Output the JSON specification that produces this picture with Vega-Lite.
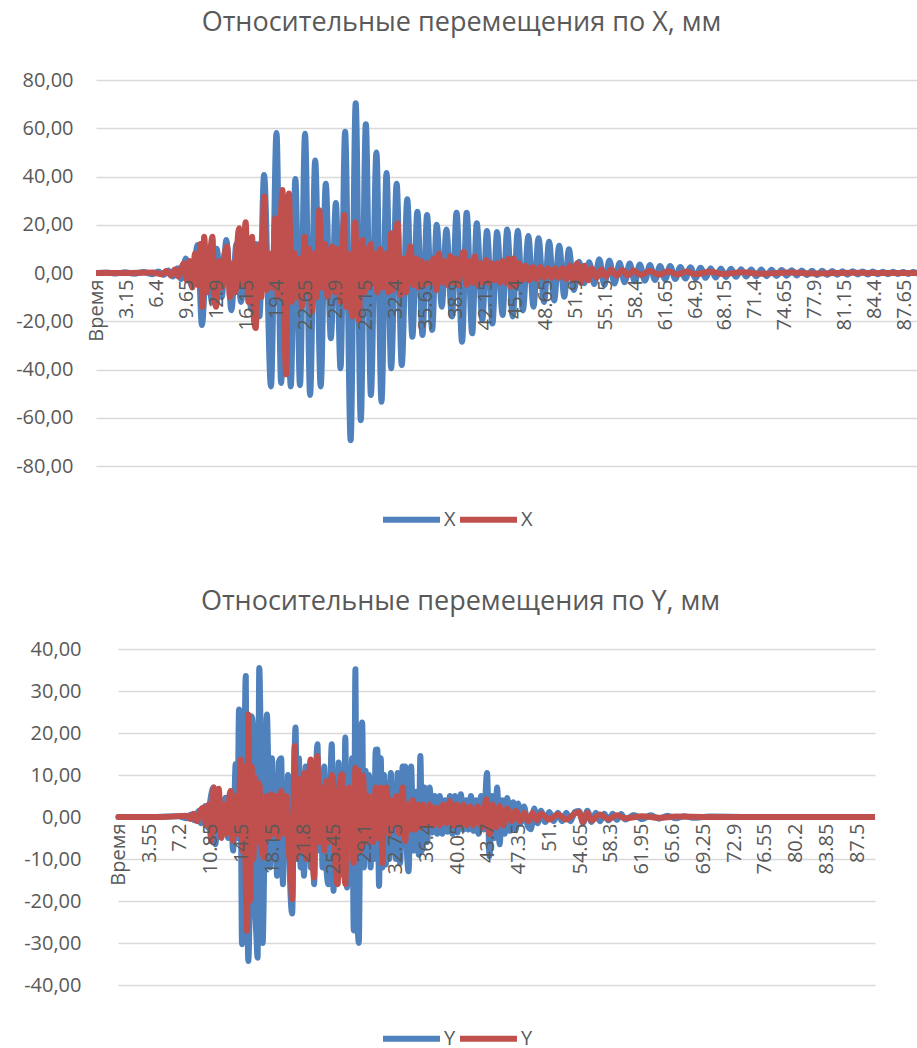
{
"$schema":"https://vega.github.io/schema/vega-lite/v6.json",
"padding":{"left":5,"top":9,"right":0,"bottom":0},
"background":"white",
"columns":1,
"spacing":56,
"resolve":{"scale":{"color":"independent"},"legend":{"color":"independent"}},
"config":{"font":"Open Sans","view":{"stroke":null},
"axis":{"labelColor":"#595959","labelFontSize":20,"labelFont":"Open Sans","ticks":false,"tickSize":0,"domain":false,"labelOverlap":false},
"axisY":{"grid":true,"gridColor":"#d9d9d9","gridWidth":1.5},
"axisX":{"grid":false,"labelAngle":-90,"labelPadding":6,"labelOverlap":false},
"legend":{"labelColor":"#595959","labelFontSize":20,"labelFont":"Open Sans","symbolType":"stroke","symbolSize":3249,"symbolStrokeWidth":6,"columnPadding":-8,"labelOffset":1,"direction":"horizontal","orient":"none"}},
"datasets":{
"topB":[{"t":-0.1,"v":0},{"t":1,"v":0.2},{"t":2,"v":-0.2},{"t":3,"v":0.3},{"t":4,"v":-0.3},{"t":5,"v":0.4},{"t":6,"v":-0.5},{"t":6.6,"v":0.6},{"t":7.2,"v":-0.8},{"t":7.7,"v":1},{"t":8.2,"v":-1.5},{"t":8.7,"v":2},{"t":9.1,"v":-2.5},{"t":9.6,"v":6},{"t":10.2,"v":-5},{"t":10.9,"v":11.6},{"t":11.35,"v":-21.6},{"t":11.9,"v":8},{"t":12.45,"v":-12},{"t":12.95,"v":10},{"t":13.5,"v":-10},{"t":14,"v":13.7},{"t":14.55,"v":-15.4},{"t":15.1,"v":12},{"t":15.6,"v":-12},{"t":16.15,"v":14},{"t":16.7,"v":-15},{"t":17.2,"v":12},{"t":17.6,"v":-18},{"t":18.1,"v":40.6},{"t":18.85,"v":-47},{"t":19.45,"v":58},{"t":19.95,"v":-45.6},{"t":20.45,"v":30},{"t":21,"v":-47},{"t":21.5,"v":39},{"t":22,"v":-46.5},{"t":22.55,"v":57.7},{"t":23.1,"v":-50.6},{"t":23.65,"v":46.6},{"t":24.25,"v":-47},{"t":24.8,"v":37},{"t":25.35,"v":-27},{"t":25.9,"v":29},{"t":26.4,"v":-39.5},{"t":26.9,"v":58.6},{"t":27.5,"v":-69.3},{"t":28.05,"v":70.4},{"t":28.6,"v":-61},{"t":29.15,"v":61.7},{"t":29.7,"v":-50.6},{"t":30.3,"v":50},{"t":30.85,"v":-53.4},{"t":31.4,"v":41.4},{"t":31.9,"v":-39.5},{"t":32.5,"v":37},{"t":33.05,"v":-38.2},{"t":33.65,"v":30.6},{"t":34.2,"v":-26.4},{"t":34.75,"v":25.4},{"t":35.3,"v":-25.7},{"t":35.8,"v":24},{"t":36.35,"v":-23.6},{"t":36.85,"v":20},{"t":37.4,"v":-14},{"t":37.9,"v":18},{"t":38.5,"v":-18},{"t":39,"v":25},{"t":39.6,"v":-28.5},{"t":40.1,"v":25},{"t":40.7,"v":-25},{"t":41.2,"v":20.6},{"t":41.8,"v":-19.5},{"t":42.3,"v":17.4},{"t":42.9,"v":-20.9},{"t":43.4,"v":17},{"t":44,"v":-17.4},{"t":44.5,"v":18},{"t":45.1,"v":-18},{"t":45.65,"v":17.5},{"t":46.2,"v":-15.5},{"t":46.8,"v":15.3},{"t":47.35,"v":-14},{"t":47.9,"v":14.4},{"t":48.5,"v":-12},{"t":49.05,"v":13},{"t":49.6,"v":-11.4},{"t":50.15,"v":11.3},{"t":50.7,"v":-9.8},{"t":51.2,"v":9.8},{"t":51.75,"v":-7},{"t":52.3,"v":4.7},{"t":52.85,"v":-4.3},{"t":53.4,"v":4.5},{"t":53.95,"v":-4.6},{"t":54.5,"v":5.7},{"t":55.05,"v":-5},{"t":55.6,"v":5.2},{"t":56.15,"v":-4.4},{"t":56.7,"v":4.1},{"t":57.25,"v":-3.8},{"t":57.8,"v":3.9},{"t":58.35,"v":-3.5},{"t":58.9,"v":3.5},{"t":59.45,"v":-3.2},{"t":60,"v":3.3},{"t":60.55,"v":-2.9},{"t":61.1,"v":2.9},{"t":61.65,"v":-2.7},{"t":62.2,"v":2.9},{"t":62.75,"v":-2.5},{"t":63.3,"v":2.5},{"t":63.85,"v":-2.3},{"t":64.4,"v":2.4},{"t":64.95,"v":-2.2},{"t":65.5,"v":2.2},{"t":66.05,"v":-2},{"t":66.6,"v":2},{"t":67.15,"v":-1.9},{"t":67.7,"v":1.9},{"t":68.25,"v":-1.7},{"t":68.8,"v":1.8},{"t":69.35,"v":-1.6},{"t":69.9,"v":1.6},{"t":70.45,"v":-1.5},{"t":71,"v":1.5},{"t":71.55,"v":-1.4},{"t":72.1,"v":1.4},{"t":72.65,"v":-1.3},{"t":73.2,"v":1.3},{"t":73.75,"v":-1.2},{"t":74.3,"v":1.2},{"t":74.85,"v":-1.1},{"t":75.4,"v":1.1},{"t":75.95,"v":-1},{"t":76.5,"v":1},{"t":77.05,"v":-0.9},{"t":77.6,"v":0.9},{"t":78.15,"v":-0.9},{"t":78.7,"v":0.9},{"t":79.25,"v":-0.8},{"t":79.8,"v":0.8},{"t":80.35,"v":-0.7},{"t":80.9,"v":0.7},{"t":81.45,"v":-0.7},{"t":82,"v":0.7},{"t":82.55,"v":-0.6},{"t":83.1,"v":0.6},{"t":83.65,"v":-0.6},{"t":84.2,"v":0.6},{"t":84.75,"v":-0.5},{"t":85.3,"v":0.5},{"t":85.85,"v":-0.5},{"t":86.4,"v":0.5},{"t":86.95,"v":-0.4},{"t":87.5,"v":0.4},{"t":88.05,"v":-0.4},{"t":88.6,"v":0.4},{"t":89.15,"v":-0.3},{"t":89.6,"v":0}],
"topR":[{"t":-0.1,"v":0},{"t":3,"v":0},{"t":6,"v":0.2},{"t":7,"v":-0.5},{"t":7.5,"v":0.8},{"t":8,"v":-1},{"t":8.4,"v":1.5},{"t":8.8,"v":-1.5},{"t":9.1,"v":2},{"t":9.4,"v":4},{"t":9.7,"v":-3},{"t":10,"v":5},{"t":10.3,"v":-6},{"t":10.6,"v":8},{"t":10.9,"v":-5},{"t":11.2,"v":12},{"t":11.4,"v":-14},{"t":11.6,"v":15},{"t":11.9,"v":-8},{"t":12.2,"v":6},{"t":12.5,"v":15},{"t":12.7,"v":-10},{"t":12.9,"v":-14},{"t":13.2,"v":5},{"t":13.5,"v":-6},{"t":13.8,"v":8},{"t":14.1,"v":11},{"t":14.4,"v":-10},{"t":14.7,"v":4},{"t":15,"v":-8},{"t":15.2,"v":12},{"t":15.4,"v":18.5},{"t":15.6,"v":-5},{"t":15.9,"v":10},{"t":16.1,"v":21},{"t":16.4,"v":-12},{"t":16.6,"v":8},{"t":16.8,"v":15},{"t":17,"v":-19.5},{"t":17.2,"v":-22.8},{"t":17.4,"v":5},{"t":17.6,"v":12},{"t":17.8,"v":-10},{"t":18.1,"v":31.7},{"t":18.4,"v":-7},{"t":18.7,"v":8},{"t":19,"v":-6},{"t":19.3,"v":22.7},{"t":19.6,"v":-10},{"t":19.85,"v":15},{"t":20.1,"v":34.4},{"t":20.3,"v":-20},{"t":20.5,"v":-42},{"t":20.65,"v":10},{"t":20.8,"v":33},{"t":21.1,"v":-12},{"t":21.4,"v":8.3},{"t":21.7,"v":-10},{"t":22,"v":6},{"t":22.2,"v":-14},{"t":22.5,"v":15},{"t":22.8,"v":-8},{"t":23,"v":10},{"t":23.3,"v":-16},{"t":23.6,"v":8},{"t":23.8,"v":-10},{"t":24.1,"v":26},{"t":24.4,"v":-6},{"t":24.7,"v":12},{"t":25,"v":-10},{"t":25.3,"v":8},{"t":25.5,"v":11},{"t":25.8,"v":-8},{"t":26.1,"v":10},{"t":26.4,"v":-12},{"t":26.6,"v":5},{"t":26.8,"v":24},{"t":27,"v":-14},{"t":27.3,"v":8},{"t":27.5,"v":-12},{"t":27.7,"v":-18},{"t":28,"v":21},{"t":28.2,"v":-10},{"t":28.4,"v":-19.5},{"t":28.6,"v":8},{"t":28.8,"v":13.7},{"t":29,"v":-8},{"t":29.3,"v":10},{"t":29.5,"v":-6},{"t":29.7,"v":12},{"t":29.9,"v":-4.3},{"t":30.2,"v":8},{"t":30.4,"v":-8},{"t":30.7,"v":10},{"t":31,"v":-6},{"t":31.3,"v":8},{"t":31.6,"v":-8},{"t":31.9,"v":16.5},{"t":32.1,"v":-7},{"t":32.3,"v":12},{"t":32.6,"v":20.6},{"t":32.9,"v":-9},{"t":33.2,"v":6},{"t":33.5,"v":-8},{"t":33.8,"v":6},{"t":34,"v":11},{"t":34.3,"v":-5},{"t":34.6,"v":6},{"t":34.9,"v":-6},{"t":35.2,"v":5},{"t":35.5,"v":-5},{"t":35.8,"v":4},{"t":36.1,"v":-4},{"t":36.5,"v":6},{"t":36.8,"v":-7},{"t":37.1,"v":8},{"t":37.4,"v":-4},{"t":37.7,"v":5},{"t":38,"v":-5},{"t":38.3,"v":7},{"t":38.6,"v":-4},{"t":38.9,"v":6},{"t":39.2,"v":-5},{"t":39.5,"v":5},{"t":39.8,"v":8.8},{"t":40.1,"v":-5},{"t":40.4,"v":5},{"t":40.7,"v":-4},{"t":41,"v":7},{"t":41.3,"v":-5},{"t":41.6,"v":4},{"t":41.9,"v":-4},{"t":42.2,"v":5.5},{"t":42.5,"v":-4},{"t":42.8,"v":4},{"t":43.1,"v":-3},{"t":43.4,"v":4},{"t":43.7,"v":-4},{"t":44,"v":5},{"t":44.3,"v":-4},{"t":44.6,"v":6},{"t":44.9,"v":-5.7},{"t":45.2,"v":6},{"t":45.5,"v":-5},{"t":45.8,"v":4},{"t":46.1,"v":-3},{"t":46.5,"v":3},{"t":46.9,"v":-3},{"t":47.3,"v":2.5},{"t":47.7,"v":-2.5},{"t":48.1,"v":2.5},{"t":48.5,"v":-2},{"t":48.9,"v":2},{"t":49.3,"v":-2},{"t":49.7,"v":2},{"t":50.1,"v":-2},{"t":50.5,"v":2},{"t":50.9,"v":-2.5},{"t":51.3,"v":3},{"t":51.7,"v":-3},{"t":52.1,"v":4},{"t":52.5,"v":-4},{"t":52.9,"v":3},{"t":53.3,"v":-3},{"t":53.7,"v":2},{"t":54.2,"v":-2},{"t":54.7,"v":1.5},{"t":55.2,"v":-1.5},{"t":55.8,"v":1.5},{"t":56.4,"v":-1.2},{"t":57,"v":1.2},{"t":57.6,"v":-1},{"t":58.2,"v":1},{"t":59,"v":-0.8},{"t":60,"v":0.8},{"t":61,"v":-0.7},{"t":62,"v":0.7},{"t":63,"v":-0.6},{"t":64,"v":0.6},{"t":65,"v":-0.5},{"t":66.5,"v":0.5},{"t":68,"v":-0.4},{"t":70,"v":0.3},{"t":72,"v":-0.3},{"t":75,"v":0.2},{"t":78,"v":-0.2},{"t":82,"v":0.1},{"t":86,"v":0},{"t":89.6,"v":0}],
"botB":[{"t":-0.1,"v":0},{"t":4,"v":0},{"t":7,"v":0.2},{"t":8,"v":-0.3},{"t":8.5,"v":0.6},{"t":8.9,"v":-0.8},{"t":9.4,"v":1.4},{"t":9.7,"v":-1.5},{"t":10.2,"v":2.6},{"t":10.5,"v":-2.5},{"t":10.8,"v":4},{"t":11.2,"v":7},{"t":11.4,"v":-6.5},{"t":11.7,"v":3},{"t":12,"v":-4},{"t":12.3,"v":2},{"t":12.6,"v":4.6},{"t":12.9,"v":-5},{"t":13.2,"v":3},{"t":13.5,"v":-8},{"t":13.8,"v":12.6},{"t":14,"v":-5},{"t":14.2,"v":25.6},{"t":14.4,"v":10},{"t":14.55,"v":-30.3},{"t":14.7,"v":-20},{"t":14.85,"v":15},{"t":15,"v":33.6},{"t":15.15,"v":-10},{"t":15.3,"v":-34.3},{"t":15.5,"v":-15},{"t":15.7,"v":24},{"t":15.9,"v":20},{"t":16.1,"v":-20},{"t":16.25,"v":-28},{"t":16.4,"v":-33.5},{"t":16.6,"v":35.5},{"t":16.8,"v":12},{"t":17,"v":-30},{"t":17.2,"v":-10},{"t":17.5,"v":24.4},{"t":17.7,"v":8},{"t":17.9,"v":-12},{"t":18.1,"v":14},{"t":18.3,"v":-8},{"t":18.5,"v":10},{"t":18.7,"v":-14},{"t":18.9,"v":13},{"t":19.2,"v":14},{"t":19.4,"v":-16},{"t":19.6,"v":8},{"t":19.8,"v":-8},{"t":20,"v":10},{"t":20.2,"v":-12},{"t":20.5,"v":-23},{"t":20.7,"v":5},{"t":20.9,"v":21.3},{"t":21.1,"v":-10},{"t":21.3,"v":14},{"t":21.5,"v":-12},{"t":21.7,"v":10},{"t":21.9,"v":-14},{"t":22.1,"v":12},{"t":22.3,"v":-10},{"t":22.5,"v":8},{"t":22.7,"v":-12},{"t":22.9,"v":10},{"t":23.1,"v":-16},{"t":23.3,"v":8},{"t":23.5,"v":17.3},{"t":23.7,"v":-8},{"t":23.9,"v":10},{"t":24.1,"v":-12},{"t":24.3,"v":12},{"t":24.5,"v":-10},{"t":24.8,"v":-16},{"t":25,"v":5},{"t":25.2,"v":17.3},{"t":25.4,"v":-17.6},{"t":25.6,"v":8},{"t":25.8,"v":-12},{"t":26,"v":13},{"t":26.2,"v":-10},{"t":26.4,"v":10},{"t":26.6,"v":-14},{"t":26.8,"v":18.9},{"t":27,"v":-16.8},{"t":27.2,"v":8},{"t":27.4,"v":-10},{"t":27.6,"v":14},{"t":27.8,"v":-27},{"t":28,"v":35.2},{"t":28.2,"v":-20},{"t":28.4,"v":-30},{"t":28.6,"v":10},{"t":28.8,"v":22.5},{"t":29,"v":-12},{"t":29.2,"v":11},{"t":29.4,"v":-9},{"t":29.6,"v":10},{"t":29.8,"v":-12},{"t":30,"v":8},{"t":30.2,"v":-10},{"t":30.4,"v":16},{"t":30.6,"v":16.1},{"t":30.8,"v":-16.4},{"t":31,"v":14},{"t":31.2,"v":-12},{"t":31.4,"v":10},{"t":31.6,"v":-11.3},{"t":31.8,"v":8},{"t":32,"v":-10},{"t":32.2,"v":10.5},{"t":32.4,"v":-8},{"t":32.6,"v":6},{"t":32.8,"v":-10},{"t":33,"v":10.5},{"t":33.3,"v":-11},{"t":33.6,"v":12},{"t":33.9,"v":12},{"t":34.1,"v":-8},{"t":34.3,"v":-12.9},{"t":34.6,"v":12},{"t":34.9,"v":-8},{"t":35.2,"v":6},{"t":35.5,"v":-9},{"t":35.7,"v":14.5},{"t":35.9,"v":-8},{"t":36.2,"v":7},{"t":36.5,"v":-6},{"t":36.8,"v":7},{"t":37.1,"v":-3.7},{"t":37.4,"v":5},{"t":37.7,"v":-4},{"t":38,"v":5},{"t":38.3,"v":-4},{"t":38.6,"v":4},{"t":38.9,"v":-3.5},{"t":39.2,"v":5},{"t":39.5,"v":-4},{"t":39.8,"v":5},{"t":40.1,"v":-3.7},{"t":40.5,"v":5.4},{"t":40.8,"v":-3},{"t":41.1,"v":4},{"t":41.4,"v":-3},{"t":41.7,"v":5},{"t":42,"v":-3.3},{"t":42.3,"v":4},{"t":42.6,"v":-4},{"t":42.9,"v":5},{"t":43.2,"v":-3},{"t":43.6,"v":10.5},{"t":43.9,"v":-9.3},{"t":44.2,"v":5},{"t":44.5,"v":-5},{"t":44.8,"v":7},{"t":45.1,"v":-6.5},{"t":45.4,"v":4},{"t":45.7,"v":-4},{"t":46,"v":4.5},{"t":46.3,"v":-3.3},{"t":46.7,"v":3.5},{"t":47,"v":-3},{"t":47.3,"v":3.2},{"t":47.6,"v":-1.4},{"t":48,"v":2.5},{"t":48.4,"v":-2},{"t":48.8,"v":-2.9},{"t":49.2,"v":2},{"t":49.6,"v":-1.5},{"t":50,"v":1.5},{"t":50.5,"v":-1.2},{"t":51,"v":1.2},{"t":51.5,"v":-1},{"t":52,"v":1},{"t":52.5,"v":-1},{"t":53,"v":1},{"t":53.5,"v":-1},{"t":54,"v":1.2},{"t":54.5,"v":1.4},{"t":55,"v":-1.4},{"t":55.5,"v":1.5},{"t":56,"v":-1.2},{"t":56.5,"v":1},{"t":57,"v":-1},{"t":57.5,"v":0.8},{"t":58,"v":-0.8},{"t":58.5,"v":0.8},{"t":59,"v":-0.7},{"t":59.5,"v":0.7},{"t":60,"v":-0.6},{"t":61,"v":0.5},{"t":62,"v":-0.5},{"t":63,"v":0.4},{"t":64,"v":-0.4},{"t":65,"v":0.3},{"t":66,"v":-0.3},{"t":67,"v":0.2},{"t":68,"v":-0.2},{"t":70,"v":0.1},{"t":75,"v":0},{"t":89.6,"v":0}],
"botR":[{"t":-0.1,"v":0},{"t":5,"v":0},{"t":8,"v":0.3},{"t":8.4,"v":-0.5},{"t":8.8,"v":0.8},{"t":9.2,"v":-1},{"t":9.6,"v":1.5},{"t":10,"v":2.2},{"t":10.3,"v":-2},{"t":10.6,"v":3},{"t":10.9,"v":-5.7},{"t":11.2,"v":7},{"t":11.5,"v":-3},{"t":11.8,"v":6.7},{"t":12.1,"v":-5},{"t":12.4,"v":3},{"t":12.7,"v":-4},{"t":13,"v":4},{"t":13.2,"v":6.2},{"t":13.5,"v":-5.7},{"t":13.8,"v":5},{"t":14.1,"v":-4},{"t":14.4,"v":13.7},{"t":14.6,"v":-8},{"t":14.8,"v":12},{"t":15,"v":-15},{"t":15.15,"v":-27.1},{"t":15.3,"v":24.4},{"t":15.5,"v":-20},{"t":15.7,"v":12},{"t":15.9,"v":-10},{"t":16.1,"v":9.4},{"t":16.3,"v":-6},{"t":16.6,"v":8},{"t":16.9,"v":-8},{"t":17.2,"v":-9.7},{"t":17.5,"v":5},{"t":17.8,"v":-5},{"t":18,"v":5.4},{"t":18.3,"v":-4},{"t":18.6,"v":5},{"t":18.9,"v":-5},{"t":19.2,"v":6.2},{"t":19.5,"v":-4},{"t":19.8,"v":5},{"t":20.1,"v":-8},{"t":20.3,"v":-12},{"t":20.5,"v":-19.6},{"t":20.8,"v":16.9},{"t":21,"v":-9.7},{"t":21.3,"v":9},{"t":21.6,"v":-8},{"t":21.9,"v":10.5},{"t":22.2,"v":-10},{"t":22.5,"v":9},{"t":22.7,"v":13.7},{"t":22.9,"v":-8},{"t":23.1,"v":-14.4},{"t":23.3,"v":8},{"t":23.5,"v":14.5},{"t":23.7,"v":-6},{"t":24,"v":7},{"t":24.3,"v":-8},{"t":24.6,"v":8.6},{"t":24.9,"v":-6},{"t":25.2,"v":10},{"t":25.4,"v":7.8},{"t":25.6,"v":-10},{"t":25.9,"v":-16},{"t":26.1,"v":5},{"t":26.4,"v":10.2},{"t":26.6,"v":-8},{"t":26.8,"v":-16},{"t":27,"v":5},{"t":27.3,"v":7},{"t":27.6,"v":-6},{"t":27.8,"v":-10.9},{"t":28,"v":11.7},{"t":28.2,"v":-5},{"t":28.4,"v":11},{"t":28.6,"v":-8},{"t":28.9,"v":9.8},{"t":29.2,"v":-6},{"t":29.5,"v":5},{"t":29.8,"v":-4},{"t":30.1,"v":-6},{"t":30.4,"v":7},{"t":30.7,"v":-5},{"t":31,"v":7},{"t":31.2,"v":-10.9},{"t":31.4,"v":5},{"t":31.7,"v":7},{"t":32,"v":-4},{"t":32.3,"v":4},{"t":32.6,"v":-1.6},{"t":32.9,"v":5},{"t":33.2,"v":-4},{"t":33.6,"v":7},{"t":33.9,"v":-5.7},{"t":34.2,"v":3},{"t":34.5,"v":-3},{"t":34.8,"v":4},{"t":35.1,"v":-3},{"t":35.4,"v":3},{"t":35.7,"v":-2.5},{"t":36,"v":3},{"t":36.4,"v":-2},{"t":36.8,"v":3},{"t":37.2,"v":-2},{"t":37.6,"v":2.2},{"t":38,"v":-2},{"t":38.4,"v":3},{"t":38.8,"v":-1.5},{"t":39.2,"v":3.8},{"t":39.6,"v":-2},{"t":40,"v":3},{"t":40.4,"v":-2},{"t":40.8,"v":3},{"t":41.2,"v":-2},{"t":41.6,"v":2.5},{"t":42,"v":-2},{"t":42.5,"v":2.5},{"t":43,"v":-2.5},{"t":43.5,"v":4.2},{"t":43.9,"v":-4.1},{"t":44.3,"v":3},{"t":44.7,"v":-2.5},{"t":45.1,"v":2.6},{"t":45.5,"v":-2},{"t":46,"v":2},{"t":46.5,"v":-1},{"t":47,"v":1.5},{"t":47.5,"v":-1},{"t":48,"v":1},{"t":48.5,"v":-1},{"t":49,"v":1},{"t":49.5,"v":-0.8},{"t":50,"v":0.8},{"t":51,"v":-0.6},{"t":52,"v":0.6},{"t":53,"v":-0.6},{"t":54,"v":0.8},{"t":54.5,"v":1.2},{"t":55,"v":-1.2},{"t":55.5,"v":1},{"t":56,"v":-0.8},{"t":57,"v":0.6},{"t":58,"v":-0.5},{"t":59,"v":0.4},{"t":60,"v":-0.3},{"t":62,"v":0.2},{"t":64,"v":-0.2},{"t":66,"v":0.1},{"t":70,"v":0},{"t":89.6,"v":0}]
},
"concat":[
{"width":821,"height":386,
"title":{"text":"Относительные перемещения по X, мм","fontSize":27,"fontWeight":"normal","color":"#595959","font":"Open Sans","dx":-45,"offset":33},
"layer":[
{"data":{"name":"topB"},"mark":{"type":"line","strokeWidth":6,"strokeCap":"round","strokeJoin":"round","interpolate":"monotone","clip":true},
"encoding":{
"x":{"field":"t","type":"quantitative","title":null,"scale":{"domain":[-0.15,89.0],"nice":false,"zero":false},"axis":{"values":[-0.1,3.15,6.4,9.65,12.9,16.15,19.4,22.65,25.9,29.15,32.4,35.65,38.9,42.15,45.4,48.65,51.9,55.15,58.4,61.65,64.9,68.15,71.4,74.65,77.9,81.15,84.4,87.65],"labelExpr":"datum.value < 0 ? 'Время' : toString(datum.value)","offset":-193,"labelFontSize":20,"labelOverlap":false,"labelFlush":false,"labelBound":false,"zindex":1,"labelAngle":-90,"labelPadding":6}},
"y":{"field":"v","type":"quantitative","title":null,"scale":{"domain":[-80,80],"nice":false},"axis":{"values":[-80,-60,-40,-20,0,20,40,60,80],"labelExpr":"replace(replace(format(datum.value,'.2f'),'.',','),'−','-')","labelPadding":23,"minExtent":91,"maxExtent":91,"labelFontSize":20,"zindex":0}},
"color":{"datum":"X1","scale":{"domain":["X1","X2"],"range":["#4F81BD","#C0504D"]},"legend":{"title":null,"labelExpr":"'X'","legendX":284,"legendY":408}}}},
{"data":{"name":"topR"},"mark":{"type":"line","strokeWidth":6,"strokeCap":"round","strokeJoin":"round","interpolate":"monotone","clip":true},
"encoding":{
"x":{"field":"t","type":"quantitative","title":null,"axis":{"values":[-0.1,3.15,6.4,9.65,12.9,16.15,19.4,22.65,25.9,29.15,32.4,35.65,38.9,42.15,45.4,48.65,51.9,55.15,58.4,61.65,64.9,68.15,71.4,74.65,77.9,81.15,84.4,87.65],"labelExpr":"datum.value < 0 ? 'Время' : toString(datum.value)","offset":-193,"labelFontSize":20,"labelOverlap":false,"labelFlush":false,"labelBound":false,"zindex":1,"labelAngle":-90,"labelPadding":6}},
"y":{"field":"v","type":"quantitative","title":null},
"color":{"datum":"X2"}}}
]},
{"width":779,"height":336,
"title":{"text":"Относительные перемещения по Y, мм","fontSize":27,"fontWeight":"normal","color":"#595959","font":"Open Sans","dx":-25,"offset":23},
"layer":[
{"data":{"name":"botB"},"mark":{"type":"line","strokeWidth":6,"strokeCap":"round","strokeJoin":"round","interpolate":"monotone","clip":true},
"encoding":{
"x":{"field":"t","type":"quantitative","title":null,"scale":{"domain":[-0.15,89.6],"range":[22,779],"nice":false,"zero":false},"axis":{"values":[-0.1,3.55,7.2,10.85,14.5,18.15,21.8,25.45,29.1,32.75,36.4,40.05,43.7,47.35,51,54.65,58.3,61.95,65.6,69.25,72.9,76.55,80.2,83.85,87.5],"labelExpr":"datum.value < 0 ? 'Время' : (datum.value == 51 ? '51.' : toString(datum.value))","offset":-168,"labelFontSize":20,"labelOverlap":false,"labelFlush":false,"labelBound":false,"zindex":1,"labelAngle":-90,"labelPadding":6}},
"y":{"field":"v","type":"quantitative","title":null,"scale":{"domain":[-40,40],"nice":false},"axis":{"values":[-40,-30,-20,-10,0,10,20,30,40],"labelExpr":"replace(replace(format(datum.value,'.2f'),'.',','),'−','-')","labelPadding":15,"minExtent":91,"maxExtent":91,"labelFontSize":20,"zindex":0}},
"color":{"datum":"Y1","scale":{"domain":["Y1","Y2"],"range":["#4F81BD","#C0504D"]},"legend":{"title":null,"labelExpr":"'Y'","legendX":284,"legendY":358}}}},
{"data":{"name":"botR"},"mark":{"type":"line","strokeWidth":6,"strokeCap":"round","strokeJoin":"round","interpolate":"monotone","clip":true},
"encoding":{
"x":{"field":"t","type":"quantitative","title":null,"axis":{"values":[-0.1,3.55,7.2,10.85,14.5,18.15,21.8,25.45,29.1,32.75,36.4,40.05,43.7,47.35,51,54.65,58.3,61.95,65.6,69.25,72.9,76.55,80.2,83.85,87.5],"labelExpr":"datum.value < 0 ? 'Время' : (datum.value == 51 ? '51.' : toString(datum.value))","offset":-168,"labelFontSize":20,"labelOverlap":false,"labelFlush":false,"labelBound":false,"zindex":1,"labelAngle":-90,"labelPadding":6}},
"y":{"field":"v","type":"quantitative","title":null},
"color":{"datum":"Y2"}}}
]}
]
}
